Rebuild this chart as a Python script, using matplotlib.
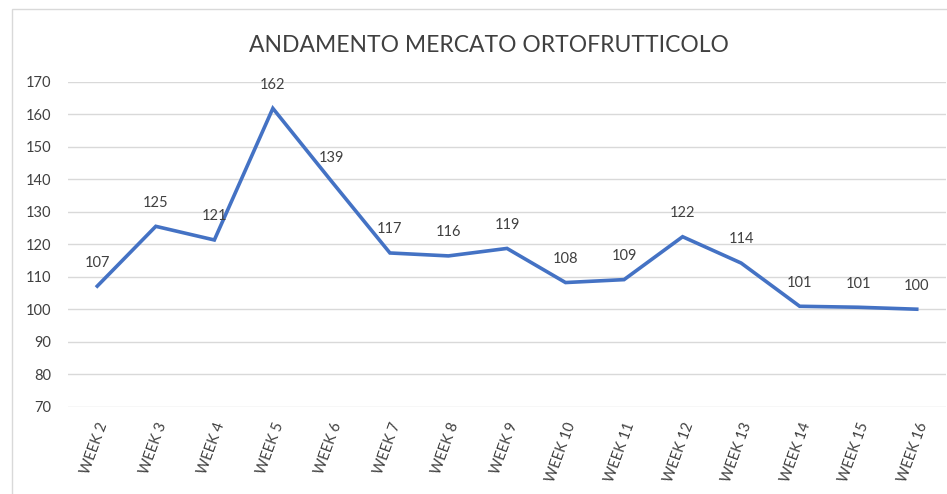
#!/usr/bin/env python3
"""Andamento mercato ortofrutticolo: weekly index line chart."""

import matplotlib

matplotlib.use("Agg")
import matplotlib.pyplot as plt
from matplotlib.patches import Rectangle

weeks = [f"WEEK {n}" for n in range(2, 17)]
index_values = [107.1, 125.5, 121.3, 161.8, 139.4, 117.3, 116.4, 118.7,
                108.2, 109.1, 122.3, 114.2, 100.9, 100.6, 100.0]
value_labels = ["107", "125", "121", "162", "139", "117", "116", "119",
                "108", "109", "122", "114", "101", "101", "100"]
y_ticks = list(range(70, 171, 10))

plt.rcParams["font.family"] = ["Lato", "DejaVu Sans"]
TEXT = "#404040"

fig = plt.figure(figsize=(9.47, 4.94), dpi=100)
W, H = 947, 494

# chart border like the Excel chart area
fig.patches.append(Rectangle((12 / W, -0.05), 1.0, 1 - 9 / H + 0.05,
                             transform=fig.transFigure, fill=False,
                             edgecolor="#d9d9d9", linewidth=1.0))

ax = fig.add_axes([68 / W, 1 - 406.7 / H, (946 - 68) / W, (406.7 - 81.7) / H])
x = list(range(len(weeks)))
ax.plot(x, index_values, color="#4472C4", linewidth=2.6,
        solid_joinstyle="miter", zorder=3)
for xi, v, lab in zip(x, index_values, value_labels):
    ax.annotate(lab, (xi, v), xytext=(0, 17), textcoords="offset points",
                ha="center", va="center", fontsize=10.5, color=TEXT)

ax.set_xlim(-0.5, len(weeks) - 0.5)
ax.set_ylim(70, 170)
ax.set_yticks(y_ticks)
ax.set_yticklabels([str(t) for t in y_ticks], fontsize=10.5, color=TEXT)
ax.set_xticks(x)
ax.set_xticklabels(weeks, rotation=70, fontsize=10.5, color=TEXT,
                   ha="right", rotation_mode="anchor")
ax.tick_params(axis="both", length=0)
ax.tick_params(axis="y", pad=12)
ax.tick_params(axis="x", pad=10)
ax.grid(axis="y", color="#d9d9d9", linewidth=1.0)
ax.set_axisbelow(True)
for side in ("top", "right", "left", "bottom"):
    ax.spines[side].set_visible(False)

fig.text(489 / W, 1 - 45 / H, "ANDAMENTO MERCATO ORTOFRUTTICOLO",
         ha="center", va="center", fontsize=16.5, color=TEXT)

fig.savefig("out.png", dpi=100)
plt.close(fig)
